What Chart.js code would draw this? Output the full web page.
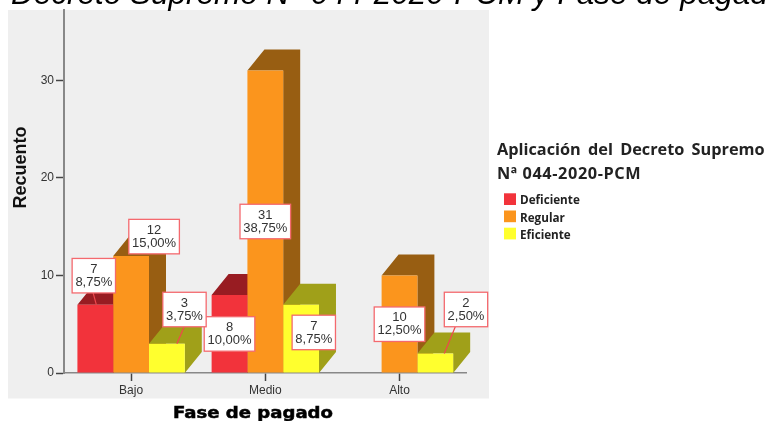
<!DOCTYPE html>
<html>
<head>
<meta charset="utf-8">
<style>
html,body{margin:0;padding:0;background:#fff;overflow:hidden}
#wrap{position:absolute;left:0;top:0;width:767px;height:421px}
</style>
<script src="https://cdn.jsdelivr.net/npm/chart.js@4"></script>
</head>
<body>
<div id="wrap"><canvas id="c" width="767" height="421"></canvas></div>
<script>
const categories = ["Bajo", "Medio", "Alto"];
const seriesNames = ["Deficiente", "Regular", "Eficiente"];
const deficiente = [7, 8, null];
const regular = [12, 31, 10];
const eficiente = [3, 7, 2];
const deficientePct = ["8,75%", "10,00%", null];
const regularPct = ["15,00%", "38,75%", "12,50%"];
const eficientePct = ["3,75%", "8,75%", "2,50%"];
const yTicks = [0, 10, 20, 30];
const chartTitle = "Decreto Supremo N° 044-2020-PCM y Fase de pagado";
const legendTitle = ["Aplicación del Decreto Supremo", "Nª 044-2020-PCM"];
const xTitle = "Fase de pagado";
const yTitle = "Recuento";

const frontColors = ["#f2333b", "#fb951d", "#ffff2e"];
const topColors = ["#981c22", "#985e12", "#a0a019"];
const pcts = [deficientePct, regularPct, eficientePct];
const labelPlacement = [
  [[-1.5,-29,-0.7,1], [0,39], null],
  [[23,-19.3], [0,151], [0,48.8]],
  [[17.6,-34.2,-0.3,10], [12.7,27.75], [30.7,-44,-10.7,9]]
];
const depthX = 17, depthY = 21;
const FONT = '"Liberation Sans", Arial, sans-serif';

const paint = {
  id: 'paint',
  beforeDraw(chart) {
    const c = chart.ctx;
    c.save();
    c.fillStyle = '#efefef';
    c.fillRect(8, 10, 481, 388.5);
    c.fillStyle = '#000';
    c.font = 'italic 31.5px ' + FONT;
    c.textAlign = 'left';
    c.textBaseline = 'alphabetic';
    c.fillText(chartTitle, 11, 3.5);
    c.save();
    c.translate(253, 418);
    c.scale(1.13, 1);
    c.fillStyle = '#000';
    c.strokeStyle = '#000';
    c.lineWidth = 0.5;
    c.font = 'bold 16px "DejaVu Sans"';
    c.textAlign = 'center';
    c.fillText(xTitle, 0, 0);
    c.strokeText(xTitle, 0, 0);
    c.restore();
    c.save();
    c.translate(25.5, 167.5);
    c.rotate(-Math.PI / 2);
    c.fillStyle = '#111';
    c.font = 'bold 18px ' + FONT;
    c.textAlign = 'center';
    c.fillText(yTitle, 0, 0);
    c.restore();
    c.textAlign = 'left';
    c.fillStyle = '#222';
    c.font = 'bold 16.3px "Open Sans"';
    c.wordSpacing = '3px';
    c.fillText(legendTitle[0], 497, 155);
    c.wordSpacing = '0px';
    c.letterSpacing = '0.6px';
    c.fillText(legendTitle[1], 497, 179);
    c.letterSpacing = '0px';
    c.font = 'bold 11.7px "Open Sans"';
    seriesNames.forEach((n, i) => {
      const y = 193.3 + i * 17.2;
      c.fillStyle = frontColors[i];
      c.fillRect(504, y, 12, 11.7);
      c.fillStyle = '#222';
      c.fillText(n, 520, y + 11);
    });
    c.restore();
  },
  beforeDatasetsDraw(chart) {
    const c = chart.ctx;
    const base = chart.scales.y.getPixelForValue(0);
    c.save();
    categories.forEach((_, ci) => {
      chart.data.datasets.forEach((ds, di) => {
        if (ds.data[ci] == null) return;
        const el = chart.getDatasetMeta(di).data[ci];
        const l = el.x - el.width / 2, r = el.x + el.width / 2, t = el.y;
        c.fillStyle = topColors[di];
        c.beginPath();
        c.moveTo(l, t); c.lineTo(l + depthX, t - depthY); c.lineTo(r + depthX, t - depthY);
        c.lineTo(r + depthX, base - depthY); c.lineTo(r, base); c.lineTo(r, t);
        c.closePath(); c.fill();
      });
    });
    c.restore();
  },
  afterDatasetsDraw(chart) {
    const c = chart.ctx;
    c.save();
    c.font = '13px ' + FONT;
    c.textAlign = 'center';
    c.textBaseline = 'middle';
    chart.data.datasets.forEach((ds, di) => {
      ds.data.forEach((v, ci) => {
        if (v == null) return;
        const el = chart.getDatasetMeta(di).data[ci];
        const p = labelPlacement[di][ci];
        const cx = el.x + p[0], cy = el.y + p[1];
        const pct = pcts[di][ci];
        const w = c.measureText(pct).width + 6.5, h = 34.5;
        if (p.length > 2) {
          c.strokeStyle = '#f0474c';
          c.lineWidth = 1.2;
          c.beginPath();
          c.moveTo(cx + p[2], cy + h / 2);
          c.lineTo(el.x + p[3], el.y);
          c.stroke();
        }
        c.fillStyle = '#fff';
        c.fillRect(cx - w / 2, cy - h / 2, w, h);
        c.strokeStyle = '#f4696e';
        c.lineWidth = 1.3;
        c.strokeRect(cx - w / 2, cy - h / 2, w, h);
        c.fillStyle = '#333';
        c.fillText(String(v), cx, cy - 6.5);
        c.fillText(pct, cx, cy + 6.5);
      });
    });
    c.restore();
  }
};

const sets = [deficiente, regular, eficiente].map((d, i) => ({
  label: seriesNames[i],
  data: d,
  backgroundColor: frontColors[i],
  borderWidth: 0,
  categoryPercentage: 0.8,
  barPercentage: 1
}));

new Chart(document.getElementById('c'), {
  type: 'bar',
  data: { labels: categories, datasets: sets },
  plugins: [paint],
  options: {
    responsive: false,
    animation: false,
    events: [],
    layout: { padding: { left: 0, right: 300.4, top: 10, bottom: 0 } },
    plugins: { legend: { display: false }, title: { display: false }, tooltip: { enabled: false } },
    scales: {
      x: {
        afterFit(s) { s.height = 48; },
        grid: { offset: false, drawOnChartArea: false, drawTicks: true, tickLength: 8, tickColor: '#444', tickWidth: 1.5 },
        border: { color: '#888', width: 1.5 },
        ticks: { color: '#333', font: { family: FONT, size: 12 }, padding: 2, maxRotation: 0 }
      },
      y: {
        min: 0,
        max: 37.2,
        afterFit(s) { s.width = 64; },
        afterBuildTicks(s) { s.ticks = yTicks.map(v => ({ value: v })); },
        grid: { drawOnChartArea: false, drawTicks: true, tickLength: 8, tickColor: '#444', tickWidth: 1.5 },
        border: { color: '#888', width: 2 },
        ticks: { color: '#333', font: { family: FONT, size: 12 }, padding: 2 }
      }
    }
  }
});
</script>
</body>
</html>
